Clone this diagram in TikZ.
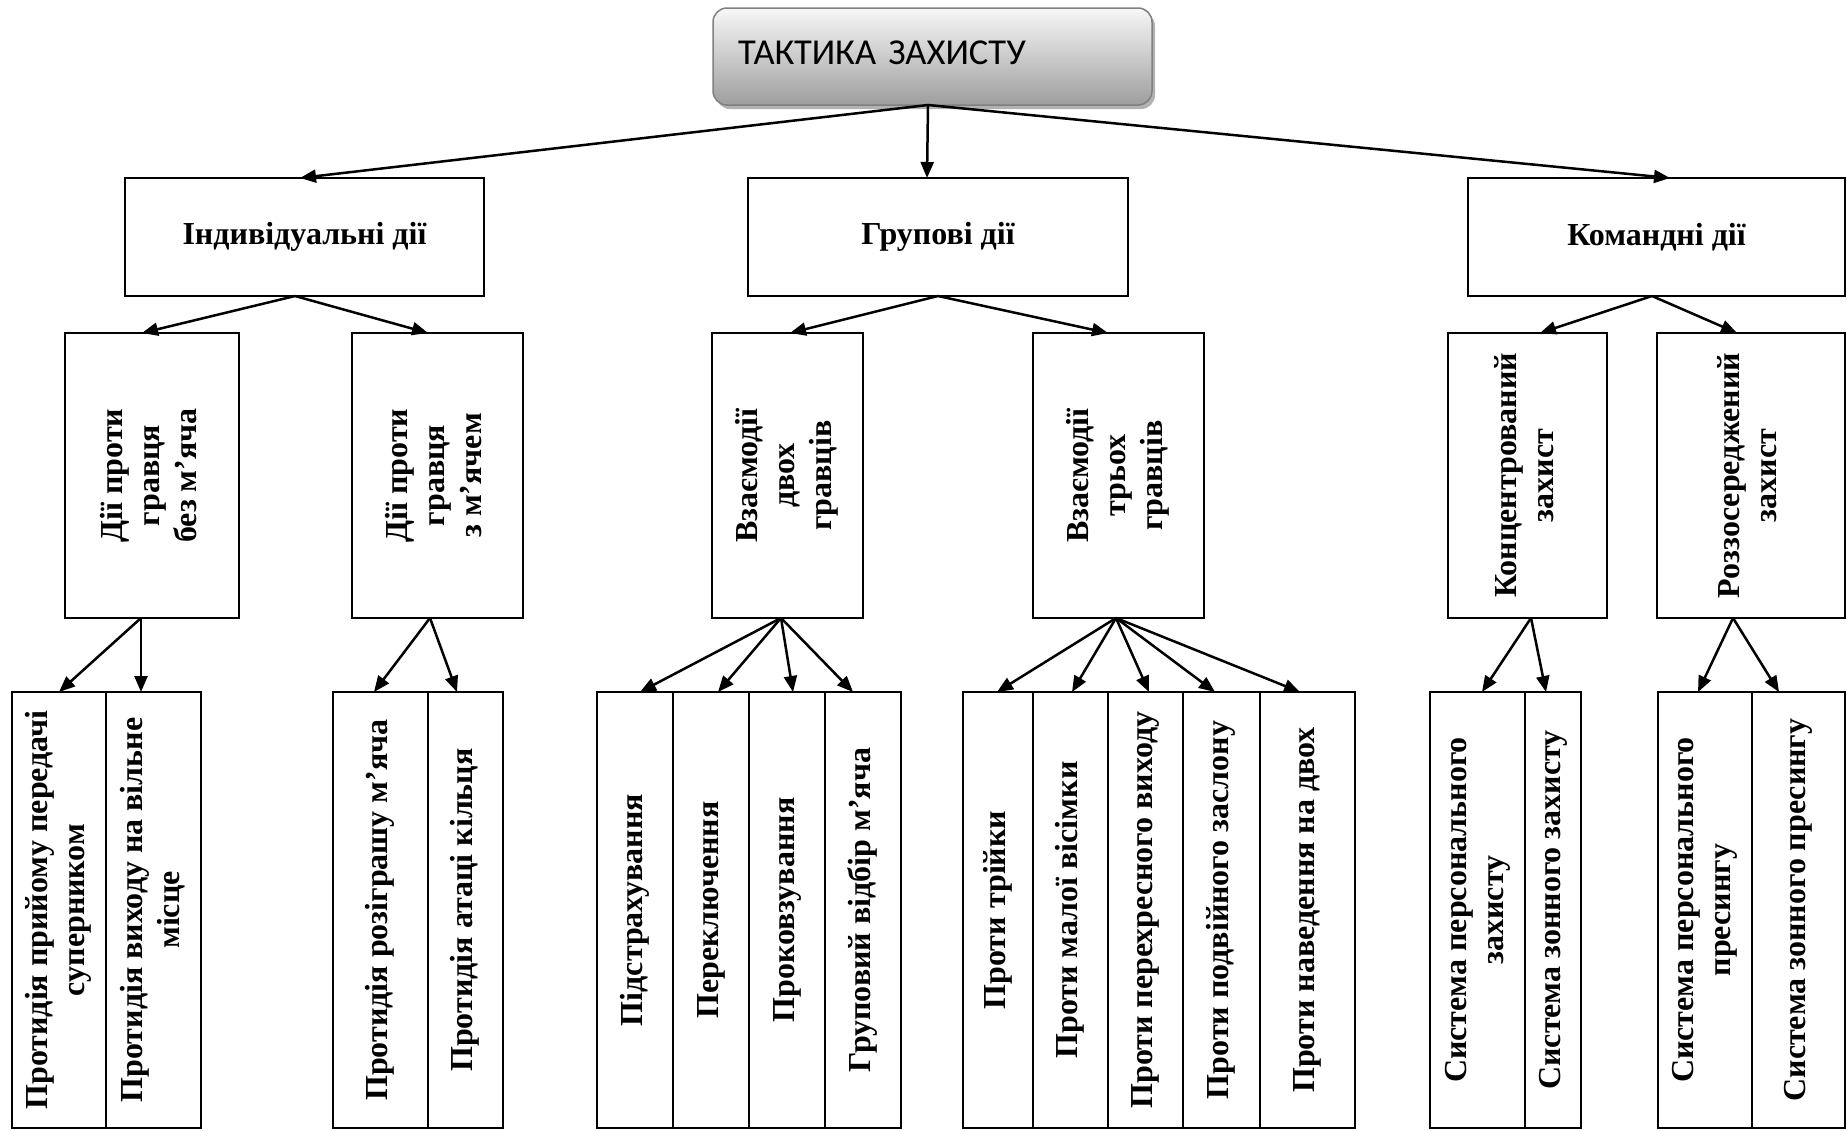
\documentclass[tikz,border=0pt]{standalone}
\usepackage{fontspec}
\setmainfont{Liberation Serif}
\newfontfamily\titlefont{Carlito}
\usetikzlibrary{arrows.meta,calc,shadows}
\newcommand\vtext[1]{\rotatebox{90}{\begin{tabular}{@{}c@{}}#1\end{tabular}}}
\newcommand\bx[6]{\node[box, minimum width={(#4-#2)*1pt}, minimum height={(#5-#3)*1pt}] (#1) at (#2,#3) {#6};}
\begin{document}
\begin{tikzpicture}[x=1pt, y=-1pt,
  box/.style={draw, line width=2.5pt, inner sep=0pt, outer sep=0pt, anchor=north west,
    align=center, font=\fontsize{32}{37}\selectfont\bfseries},
  titlebox/.style={draw=black!50, line width=1.5pt, rounded corners=14pt, outer sep=0pt,
    top color=black!3, bottom color=black!38, text width=389pt, align=left,
    inner xsep=25pt, inner ysep=0pt, font=\titlefont\fontsize{36.5}{42}\selectfont,
    drop shadow={shadow xshift=3pt, shadow yshift=-4pt, fill=black, opacity=0.3}},
  arr/.style={line width=2.5pt, -{Triangle[length=16pt,width=13pt]}}]
\useasboundingbox (0,0) rectangle (1847,1130);

\node[titlebox, anchor=north west, minimum width=439pt, minimum height=97pt] (T) at (713,8)
  {\raisebox{8pt}{ТАКТИКА ЗАХИСТУ}};

\bx{I1}{125}{178}{484}{296}{Індивідуальні дії}
\bx{G1}{748}{178}{1128}{296}{Групові дії}
\bx{K1}{1468}{178}{1845}{296}{Командні дії}

\bx{A}{65}{333}{239}{618}{\vtext{Дії проти\\гравця\\без м’яча}}
\bx{B}{352}{333}{523}{618}{\vtext{Дії проти\\гравця\\з м’ячем}}
\bx{C}{712}{333}{863}{618}{\vtext{Взаємодії\\двох\\гравців}}
\bx{D}{1033}{333}{1204}{618}{\vtext{Взаємодії\\трьох\\гравців}}
\bx{E}{1448}{333}{1607}{618}{\vtext{Концентрований\\захист}}
\bx{F}{1657}{333}{1845}{618}{\vtext{Роззосереджений\\захист}}

\bx{A1}{12}{692}{106}{1128}{\vtext{Протидія прийому передачі\\суперником}}
\bx{A2}{106}{692}{201}{1128}{\vtext{Протидія виходу на вільне\\місце}}
\bx{B1}{333}{692}{428}{1128}{\vtext{Протидія розіграшу м’яча}}
\bx{B2}{428}{692}{503}{1128}{\vtext{Протидія атаці кільця}}
\bx{C1}{597}{692}{673}{1128}{\vtext{Підстрахування}}
\bx{C2}{673}{692}{749}{1128}{\vtext{Переключення}}
\bx{C3}{749}{692}{825}{1128}{\vtext{Проковзування}}
\bx{C4}{825}{692}{901}{1128}{\vtext{Груповий відбір м’яча}}
\bx{D1}{963}{692}{1033}{1128}{\vtext{Проти трійки}}
\bx{D2}{1033}{692}{1108}{1128}{\vtext{Проти малої вісімки}}
\bx{D3}{1108}{692}{1183}{1128}{\vtext{Проти перехресного виходу}}
\bx{D4}{1183}{692}{1260}{1128}{\vtext{Проти подвійного заслону}}
\bx{D5}{1260}{692}{1355}{1128}{\vtext{Проти наведення на двох}}
\bx{E1}{1430}{692}{1525}{1128}{\vtext{Система персонального\\захисту}}
\bx{E2}{1525}{692}{1581}{1128}{\vtext{Система зонного захисту}}
\bx{F1}{1658}{692}{1752}{1128}{\vtext{Система персонального\\пресингу}}
\bx{F2}{1752}{692}{1845}{1128}{\vtext{Система зонного пресингу}}

\draw[arr] ($(T.south west)+(215,0)$) -- ($(I1.north west)+(175,0)$);
\draw[arr] ($(T.south west)+(215,0)$) -- ($(G1.north west)+(179,0)$);
\draw[arr] ($(T.south west)+(215,0)$) -- ($(K1.north west)+(202,0)$);

\draw[arr] ($(I1.south west)+(170,0)$) -- ($(A.north west)+(77,0)$);
\draw[arr] ($(I1.south west)+(170,0)$) -- ($(B.north west)+(76,0)$);
\draw[arr] ($(G1.south west)+(190,0)$) -- ($(C.north west)+(78,0)$);
\draw[arr] ($(G1.south west)+(190,0)$) -- ($(D.north west)+(75,0)$);
\draw[arr] ($(K1.south west)+(184,0)$) -- ($(E.north west)+(92,0)$);
\draw[arr] ($(K1.south west)+(184,0)$) -- ($(F.north west)+(80,0)$);

\foreach \n/\d in {A1/47, A2/35}
  \draw[arr] ($(A.south west)+(76,0)$) -- ($(\n.north west)+(\d,0)$);
\foreach \n/\d in {B1/41, B2/29}
  \draw[arr] ($(B.south west)+(78,0)$) -- ($(\n.north west)+(\d,0)$);
\foreach \n/\d in {C1/43, C2/45, C3/44, C4/28}
  \draw[arr] ($(C.south west)+(69,0)$) -- ($(\n.north west)+(\d,0)$);
\foreach \n/\d in {D1/34, D2/39, D3/41, D4/32, D5/40}
  \draw[arr] ($(D.south west)+(83,0)$) -- ($(\n.north west)+(\d,0)$);
\foreach \n/\d in {E1/52, E2/21}
  \draw[arr] ($(E.south west)+(83,0)$) -- ($(\n.north west)+(\d,0)$);
\foreach \n/\d in {F1/40, F2/27}
  \draw[arr] ($(F.south west)+(76,0)$) -- ($(\n.north west)+(\d,0)$);
\end{tikzpicture}
\end{document}
